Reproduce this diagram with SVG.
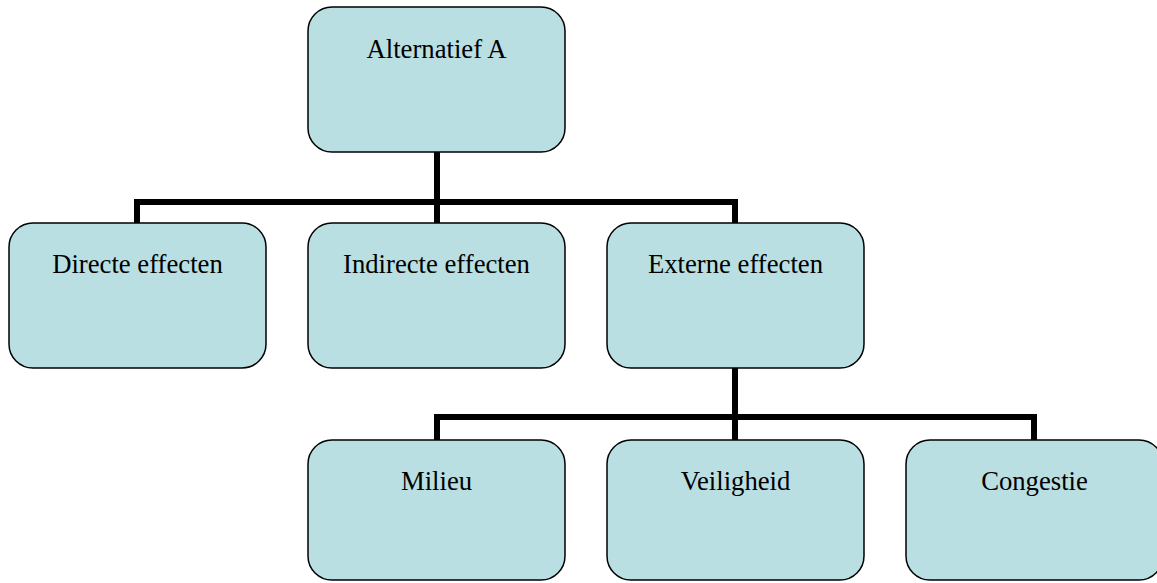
<svg xmlns="http://www.w3.org/2000/svg" width="1157" height="583" viewBox="0 0 1157 583">
<style>
.box{fill:#b9dfe2;stroke:#000;stroke-width:1.5}
.lbl{font-family:"Liberation Serif","Times New Roman",serif;font-size:26.7px;fill:#000;text-anchor:middle}
.con{fill:none;stroke:#000;stroke-width:6}
</style>
<rect width="1157" height="583" fill="#fff"/>
<g id="connectors">
<path class="con" d="M437 152V223M137 223V202H735V223"/>
<path class="con" d="M735 368V440M437 440V417H1034V440"/>
</g>
<g id="n-alternatief"><rect class="box" x="308" y="7" width="257" height="145" rx="24"/><text class="lbl" x="436.5" y="58">Alternatief A</text></g>
<g id="n-directe"><rect class="box" x="9" y="223" width="257" height="145" rx="24"/><text class="lbl" x="137.5" y="273">Directe effecten</text></g>
<g id="n-indirecte"><rect class="box" x="308" y="223" width="257" height="145" rx="24"/><text class="lbl" x="436.5" y="273">Indirecte effecten</text></g>
<g id="n-externe"><rect class="box" x="607" y="223" width="257" height="145" rx="24"/><text class="lbl" x="735.5" y="273">Externe effecten</text></g>
<g id="n-milieu"><rect class="box" x="308" y="440" width="257" height="140" rx="24"/><text class="lbl" x="436.5" y="490">Milieu</text></g>
<g id="n-veiligheid"><rect class="box" x="607" y="440" width="257" height="140" rx="24"/><text class="lbl" x="735.5" y="490">Veiligheid</text></g>
<g id="n-congestie"><rect class="box" x="906" y="440" width="257" height="140" rx="24"/><text class="lbl" x="1034.5" y="490">Congestie</text></g>
</svg>
